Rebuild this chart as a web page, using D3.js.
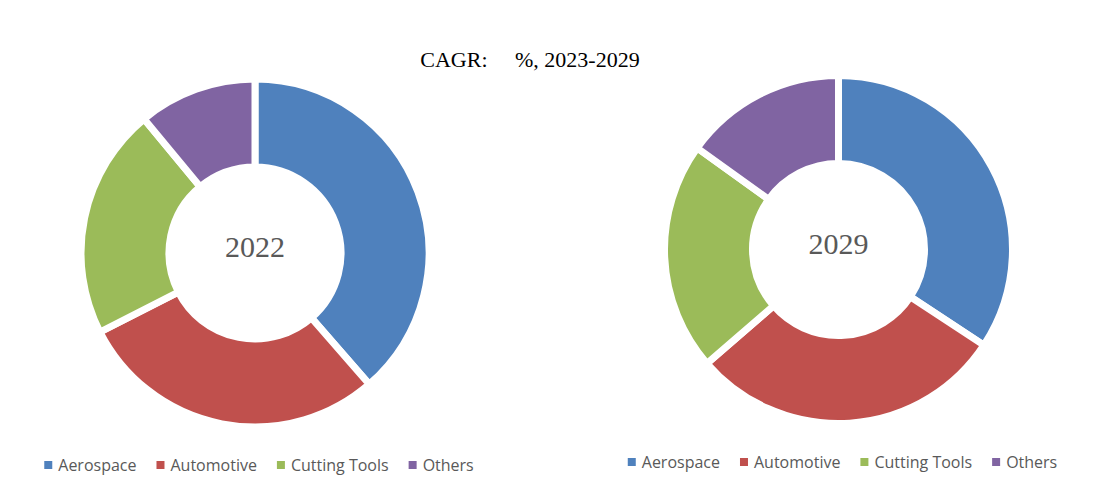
<!DOCTYPE html>
<html lang="en">
<head>
<meta charset="UTF-8" />
<title>CAGR donuts</title>
<script src="https://cdn.jsdelivr.net/npm/d3@7/dist/d3.min.js"></script>
<style>
    body { margin: 0; background: #fff; overflow: hidden; }
    .title { font-family: 'Liberation Serif', serif; white-space: pre; }
    .year { font-family: 'Liberation Serif', serif; }
    .legend text { font-family: 'Open Sans', sans-serif; }
</style>
</head>
<body>
<svg id="chart"></svg>
<script>
    const categories = ["Aerospace", "Automotive", "Cutting Tools", "Others"];
    const colors = ["#4F81BD", "#C0504D", "#9BBB59", "#8064A2"];
    const years = ["2022", "2029"];
    // shares (%)
    const share2022 = [38.6, 28.9, 21.5, 11.0];
    const share2029 = [34.3, 29.4, 21.3, 15.1];

    const width = 1094, height = 496;
    const svg = d3.select("#chart").attr("width", width).attr("height", height);

    svg.append("text")
        .attr("class", "title")
        .attr("x", 530)
        .attr("y", 67)
        .attr("text-anchor", "middle")
        .style("font-size", "22px")
        .attr("fill", "#000")
        .text("CAGR:     %, 2023-2029");

    const color = d3.scaleOrdinal().domain(categories).range(colors);
    const pie = d3.pie().sort(null).value(d => d.value);
    const arc = d3.arc().innerRadius(86).outerRadius(174);

    const panels = [
        { year: years[0], values: share2022, cx: 255, cy: 253, legendY: 465 },
        { year: years[1], values: share2029, cx: 838.5, cy: 249.5, legendY: 462 }
    ];

    panels.forEach(p => {
        const data = categories.map((c, i) => ({ name: c, value: p.values[i] }));
        const g = svg.append("g").attr("transform", `translate(${p.cx},${p.cy})`);

        g.selectAll("path")
            .data(pie(data))
            .enter().append("path")
            .attr("d", arc)
            .attr("fill", d => color(d.data.name))
            .attr("stroke", "#fff")
            .attr("stroke-width", 7)
            .attr("stroke-linejoin", "miter");

        g.append("text")
            .attr("class", "year")
            .attr("text-anchor", "middle")
            .attr("y", 4)
            .style("font-size", "30px")
            .attr("fill", "#595959")
            .text(p.year);

        // legend, laid out by measured text width and centred under the donut
        const lg = svg.append("g").attr("class", "legend");
        const items = lg.selectAll("g")
            .data(categories)
            .enter().append("g");
        items.append("rect")
            .attr("width", 8).attr("height", 8)
            .attr("y", -4)
            .attr("fill", d => color(d));
        items.append("text")
            .attr("x", 14)
            .attr("dy", "0.35em")
            .style("font-size", "16px")
            .attr("fill", "#595959")
            .text(d => d);

        let x = 0;
        items.each(function () {
            const t = d3.select(this).select("text").node().getComputedTextLength();
            d3.select(this).attr("transform", `translate(${x},0)`);
            x += 14 + t + 20;
        });
        const total = x - 20;
        lg.attr("transform", `translate(${p.cx + 4 - total / 2},${p.legendY})`);
    });
</script>
</body>
</html>
